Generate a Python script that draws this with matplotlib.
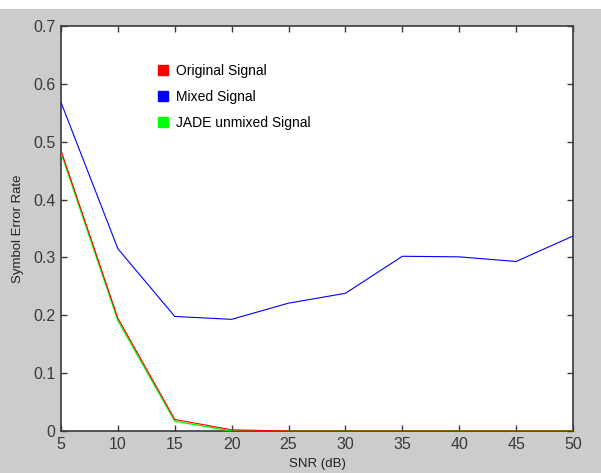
import numpy as np
import matplotlib.pyplot as plt
from matplotlib.lines import Line2D
from matplotlib.patches import Rectangle

plt.rcParams['font.family'] = ['Liberation Sans', 'DejaVu Sans']

# Дані
snr = [5, 10, 15, 20, 25, 30, 35, 40, 45, 50]
original = [0.485, 0.195, 0.020, 0.002, 0, 0, 0, 0, 0, 0]
mixed = [0.568, 0.315, 0.198, 0.193, 0.221, 0.238, 0.302, 0.301, 0.293, 0.337]
jade = [0.481, 0.191, 0.017, 0.0, 0, 0, 0, 0, 0, 0]
labels = ['Original Signal', 'Mixed Signal', 'JADE unmixed Signal']
colors = ['#ff0000', '#0000ff', '#00ff00']

fig = plt.figure(figsize=(6.01, 4.73), dpi=100, facecolor='#cccccc')
# біла смуга вгорі
fig.patches.append(Rectangle((0, 1 - 9 / 473), 1, 9 / 473, transform=fig.transFigure,
                             facecolor='white', edgecolor='none', zorder=-1))
ax = fig.add_axes([61 / 601, 1 - 431 / 473, (573 - 61) / 601, (431 - 26) / 473])
ax.set_facecolor('white')

ax.plot(snr, mixed, color=colors[1], lw=0.8, zorder=3)
ax.plot(snr, jade, color=colors[2], lw=1.0, zorder=3)
ax.plot(snr, original, color=colors[0], lw=0.8, zorder=4)

ax.set_xlim(5, 50)
ax.set_ylim(0, 0.7)
ax.set_xticks(np.arange(5, 51, 5))
ax.set_yticks(np.arange(0, 0.71, 0.1))
ax.set_yticklabels(['0', '0.1', '0.2', '0.3', '0.4', '0.5', '0.6', '0.7'])
ax.tick_params(direction='in', top=True, right=True, length=4, width=1,
               colors='#3a3a3a', labelsize=11.5, pad=4)
for s in ax.spines.values():
    s.set_color('#3a3a3a')
    s.set_linewidth(1.2)

ax.set_xlabel('SNR (dB)', fontsize=9.5, color='#222222', labelpad=4.5)
ax.set_ylabel('Symbol Error Rate', fontsize=9.5, color='#222222', labelpad=6.5)

handles = [Line2D([], [], marker='s', color=c, linestyle='none', markersize=7) for c in colors]
ax.legend(handles, labels, loc='upper left', bbox_to_anchor=(0.178, 0.92), frameon=False,
          fontsize=10, handlelength=0.8, handletextpad=0.5, labelspacing=0.85,
          borderaxespad=0)

fig.savefig('out.png', dpi=100, facecolor=fig.get_facecolor())
